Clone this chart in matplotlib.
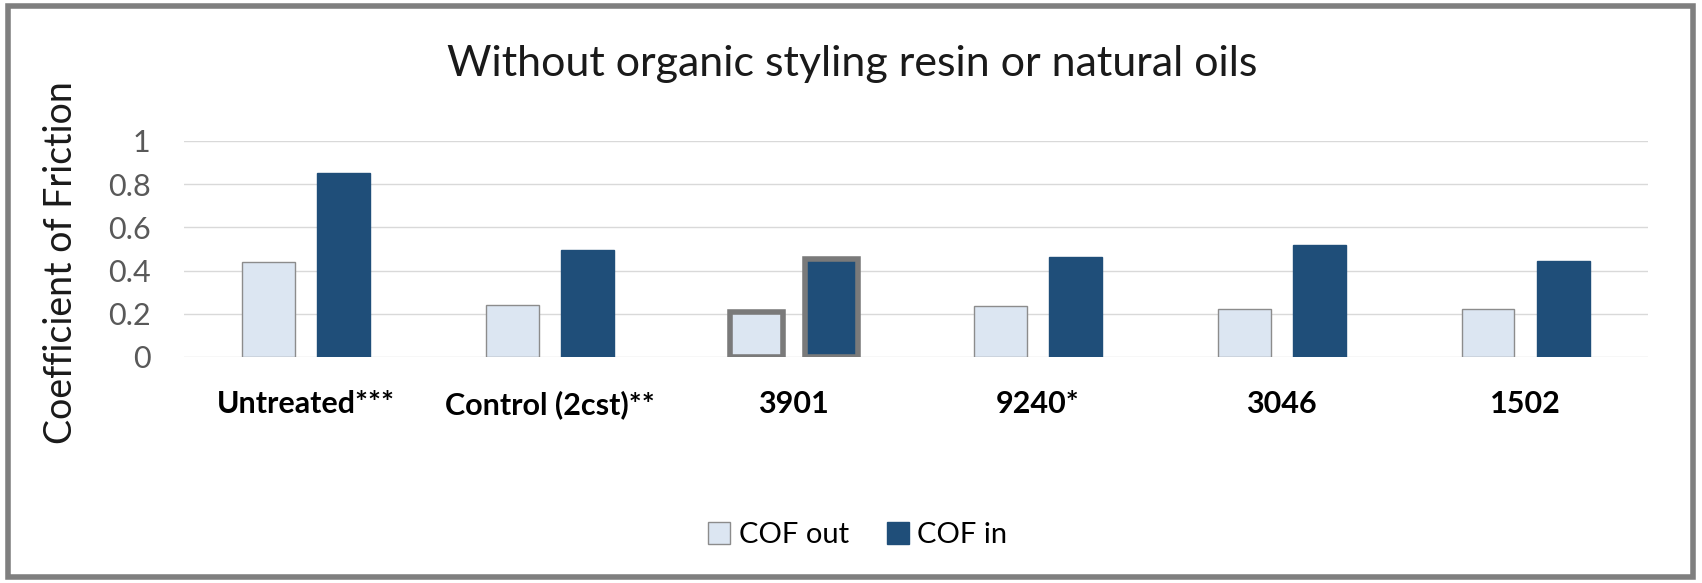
import numpy as np
import matplotlib.pyplot as plt
from matplotlib.patches import Rectangle

plt.rcParams['font.family'] = ['Lato', 'DejaVu Sans']

categories = ["Untreated***", "Control (2cst)**", "3901", "9240*", "3046", "1502"]
cof_out = [0.44, 0.24, 0.21, 0.235, 0.22, 0.22]
cof_in = [0.85, 0.495, 0.455, 0.465, 0.52, 0.445]
yticks = [0, 0.2, 0.4, 0.6, 0.8, 1]
ytick_labels = ["0", "0.2", "0.4", "0.6", "0.8", "1"]

light = "#dce6f2"
dark = "#1f4e79"

fig = plt.figure(figsize=(17.02, 5.83), dpi=100)
ax = fig.add_axes([0.108, 0.3877, 0.86, 0.3705])

x = np.arange(len(categories))
w = 0.217
off = 0.154
b_out = ax.bar(x - off, cof_out, w, color=light, edgecolor="#8c8c8c", linewidth=1, label="COF out", zorder=3)
b_in = ax.bar(x + off, cof_in, w, color=dark, edgecolor=dark, linewidth=1, label="COF in", zorder=3)

# highlighted pair
for b in (b_out[2], b_in[2]):
    b.set_edgecolor("#7a7a7a")
    b.set_linewidth(4)

ax.set_xlim(-0.5, len(categories) - 0.5)
ax.set_ylim(0, 1)
ax.set_yticks(yticks)
ax.set_yticklabels(ytick_labels, fontsize=22, color="#595959")
ax.set_xticks(x)
ax.set_xticklabels(categories, fontsize=22, fontweight="bold", color="black")
ax.tick_params(axis="y", length=0, pad=24)
ax.tick_params(axis="x", length=0, pad=24)
ax.grid(axis="y", color="#d9d9d9", linewidth=1, zorder=0)
for s in ax.spines.values():
    s.set_visible(False)

fig.text(0.5006, 0.89, "Without organic styling resin or natural oils",
         ha="center", va="center", fontsize=31, color="#1a1a1a")
fig.text(0.036, 0.55, "Coefficient of Friction", rotation=90,
         ha="center", va="center", fontsize=27, color="#1a1a1a")

fig.legend(handles=[b_out, b_in], labels=["COF out", "COF in"],
           loc="center", bbox_to_anchor=(0.504, 0.082), ncol=2, frameon=False,
           fontsize=21, handlelength=0.75, handleheight=0.75, handletextpad=0.3,
           columnspacing=1.3)

fig.patches.append(Rectangle((8 / 1702, 6 / 583), 1685 / 1702, 571 / 583,
                             transform=fig.transFigure, fill=False,
                             edgecolor="#7f7f7f", linewidth=4))

fig.savefig("out.png", dpi=100)
